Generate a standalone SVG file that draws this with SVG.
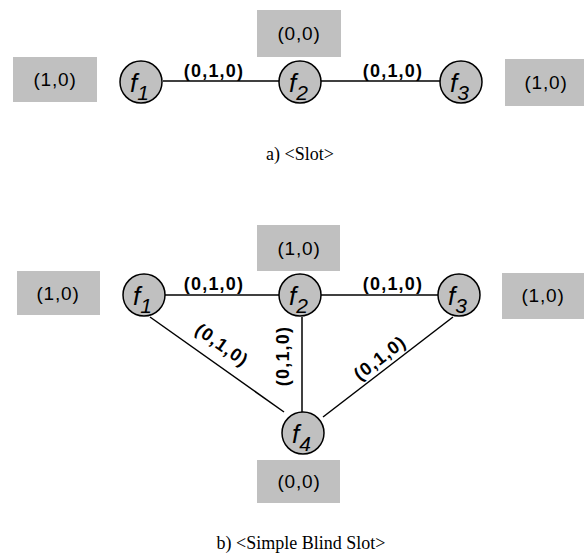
<svg xmlns="http://www.w3.org/2000/svg" width="584" height="556" viewBox="0 0 584 556">
<style>
.box{fill:#c0c0c0;stroke:none}
.bt{font-family:"Liberation Sans",Arial,sans-serif;font-size:19px;letter-spacing:0.8px;text-anchor:middle;fill:#000}
.node{fill:#c0c0c0;stroke:#000;stroke-width:1.5}
.nt{font-family:"Liberation Sans",Arial,sans-serif;font-style:italic;font-size:26px;fill:#000}
.sub{font-size:21px}
.edge{stroke:#000;stroke-width:1.5;fill:none}
.el{font-family:"Liberation Sans",Arial,sans-serif;font-weight:bold;font-size:18px;letter-spacing:1.2px;text-anchor:middle;fill:#000}
.cap{font-family:"Liberation Serif","Times New Roman",serif;font-size:18px;text-anchor:middle;fill:#000}
</style>
<rect width="584" height="556" fill="#fff"/>
<g id="connectors">
<line class="edge" x1="163" y1="81" x2="279" y2="81"/>
<line class="edge" x1="321" y1="81" x2="440" y2="81"/>
<line class="edge" x1="165" y1="295" x2="279" y2="295"/>
<line class="edge" x1="321" y1="295" x2="438" y2="295"/>
<line class="edge" x1="150" y1="317" x2="284" y2="412"/>
<line class="edge" x1="302" y1="317" x2="302" y2="412"/>
<line class="edge" x1="453" y1="317" x2="323" y2="417"/>
<text class="el" x="214" y="77">(0,1,0)</text>
<text class="el" x="393" y="77">(0,1,0)</text>
<text class="el" x="214" y="290">(0,1,0)</text>
<text class="el" x="393" y="290">(0,1,0)</text>
<text class="el" transform="translate(222,345) rotate(35.3)" x="0" y="6">(0,1,0)</text>
<text class="el" transform="translate(283,356) rotate(-90)" x="0" y="6">(0,1,0)</text>
<text class="el" transform="translate(380,358) rotate(-37.6)" x="0" y="6">(0,1,0)</text>
</g>
<g id="a-box-left"><rect class="box" x="13" y="57" width="84" height="45"/><text class="bt" x="55" y="86">(1,0)</text></g>
<g id="a-box-top"><rect class="box" x="257" y="10" width="84" height="47"/><text class="bt" x="299" y="40">(0,0)</text></g>
<g id="a-box-right"><rect class="box" x="505" y="59" width="79" height="47"/><text class="bt" x="546" y="89">(1,0)</text></g>
<g id="a-f1"><circle class="node" cx="141" cy="82" r="21"/><text class="nt" x="130" y="92">f<tspan class="sub" dy="8">1</tspan></text></g>
<g id="a-f2"><circle class="node" cx="300" cy="82" r="21"/><text class="nt" x="289" y="92">f<tspan class="sub" dy="8">2</tspan></text></g>
<g id="a-f3"><circle class="node" cx="461" cy="82" r="21"/><text class="nt" x="450" y="92">f<tspan class="sub" dy="8">3</tspan></text></g>
<text class="cap" x="300" y="160">a) &lt;Slot&gt;</text>
<g id="b-box-left"><rect class="box" x="17" y="271" width="83" height="44"/><text class="bt" x="58" y="300">(1,0)</text></g>
<g id="b-box-top"><rect class="box" x="257" y="225" width="83" height="46"/><text class="bt" x="299" y="255">(1,0)</text></g>
<g id="b-box-right"><rect class="box" x="502" y="273" width="82" height="46"/><text class="bt" x="543" y="302">(1,0)</text></g>
<g id="b-box-bottom"><rect class="box" x="257" y="460" width="83" height="43"/><text class="bt" x="299" y="488">(0,0)</text></g>
<g id="b-f1"><circle class="node" cx="144" cy="295" r="21"/><text class="nt" x="133" y="305">f<tspan class="sub" dy="8">1</tspan></text></g>
<g id="b-f2"><circle class="node" cx="300" cy="295" r="21"/><text class="nt" x="289" y="305">f<tspan class="sub" dy="8">2</tspan></text></g>
<g id="b-f3"><circle class="node" cx="459" cy="295" r="21"/><text class="nt" x="448" y="305">f<tspan class="sub" dy="8">3</tspan></text></g>
<g id="b-f4"><circle class="node" cx="303" cy="433" r="21"/><text class="nt" x="292" y="443">f<tspan class="sub" dy="8">4</tspan></text></g>
<text class="cap" x="301" y="549">b) &lt;Simple Blind Slot&gt;</text>
</svg>
